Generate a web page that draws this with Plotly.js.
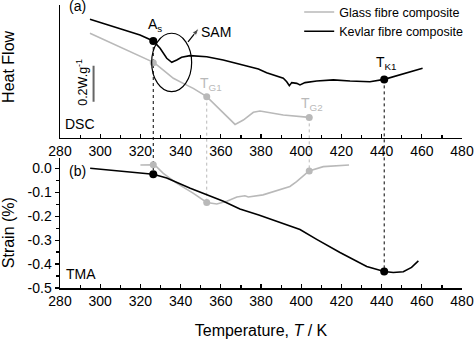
<!DOCTYPE html>
<html>
<head>
<meta charset="utf-8">
<script src="https://cdn.plot.ly/plotly-3.0.1.min.js"></script>
<style>
  html, body { margin: 0; padding: 0; background: #fff; }
  #chart { width: 476px; height: 340px; }
</style>
</head>
<body>
<div id="chart"></div>
<script>
// ---- DSC heat flow (W/g, arbitrary offset) vs temperature (K) ----
const dscKevlarT = [294.9, 319.8, 326.4, 329.8, 333.1, 335.6, 338.1, 340.5, 344.7, 353.0, 361.2,
                    369.6, 378.7, 382.8, 391.1, 392.8, 394.1, 395.3, 397.8, 399.4, 401.9, 407.7,
                    416.0, 424.3, 434.2, 441.3, 450.8, 460.4];
const dscKevlar  = [0.658, 0.571, 0.537, 0.497, 0.441, 0.419, 0.432, 0.447, 0.456, 0.450, 0.432,
                    0.408, 0.382, 0.361, 0.330, 0.311, 0.289, 0.306, 0.302, 0.293, 0.306, 0.315,
                    0.321, 0.315, 0.311, 0.324, 0.354, 0.386];

const dscGlassT = [294.9, 319.8, 326.8, 331.4, 336.4, 341.3, 346.3, 353.0, 358.0, 362.9, 367.1,
                   371.2, 376.2, 379.5, 391.1, 404.0];
const dscGlass  = [0.580, 0.450, 0.417, 0.376, 0.330, 0.302, 0.274, 0.228, 0.172, 0.117, 0.074,
                   0.098, 0.141, 0.148, 0.126, 0.113];

// ---- TMA strain (%) vs temperature (K) ----
const tmaKevlarT = [295.0, 320.0, 326.4, 333.1, 344.8, 361.3, 369.5, 378.9, 394.4, 399.4, 407.7,
                    419.3, 432.6, 441.3, 445.8, 450.8, 454.9, 458.3];
const tmaKevlar  = [0.000, -0.018, -0.025, -0.041, -0.083, -0.138, -0.170, -0.195, -0.239, -0.256,
                    -0.297, -0.352, -0.410, -0.431, -0.435, -0.432, -0.414, -0.387];

const tmaGlassT = [320.0, 326.4, 328.0, 331.4, 338.0, 346.2, 353.0, 358.0, 363.0, 368.0, 372.0,
                   373.7, 381.0, 394.4, 397.7, 403.9, 411.0, 423.8];
const tmaGlass  = [0.014, 0.015, 0.007, -0.021, -0.062, -0.104, -0.143, -0.149, -0.138, -0.120,
                   -0.115, -0.120, -0.111, -0.076, -0.056, -0.011, 0.007, 0.014];

// strain axis ticks (plain hyphen for the minus sign)
const strainTickVals = [0.0, -0.1, -0.2, -0.3, -0.4, -0.5];
const strainTickText = ['0.0', '-0.1', '-0.2', '-0.3', '-0.4', '-0.5'];

// ---- characteristic temperatures with their DSC and TMA values ----
const pointAs  = { T: 326.4, kevlarDsc: 0.537, kevlarTma: -0.025, glassDsc: 0.417, glassTma: 0.015 };
const pointTG1 = { T: 353.0, dsc: 0.228, tma: -0.143 };
const pointTG2 = { T: 404.0, dsc: 0.113, tma: -0.011 };
const pointTK1 = { T: 441.3, dsc: 0.324, tma: -0.431 };

const seriesNames = ['Glass fibre composite', 'Kevlar fibre composite'];
const scaleBarLen = 0.2;   // W/g

// SAM pointer: from the ellipse edge to the label
const samArrowT = [343.7, 349.2];
const samArrowV = [0.532, 0.609];

const BLACK = '#000000';
const GREY  = '#b9b9b9';
const FONT  = 'Liberation Sans, Arial, Helvetica, sans-serif';

const xRange = [280, 480];
const yTop = { range: [0, 0.737], domain: [0.531, 1.0] };
const yBot = { range: [-0.5, 0.043], domain: [0, 0.4594] };

// map an axis value to paper coordinates through that axis' range and domain
function paperY(v, ax) {
  const f = (v - ax.range[0]) / (ax.range[1] - ax.range[0]);
  return ax.domain[0] + f * (ax.domain[1] - ax.domain[0]);
}

const traces = [
  { x: dscGlassT, y: dscGlass, xaxis: 'x', yaxis: 'y', mode: 'lines', name: seriesNames[0],
    line: { color: GREY, width: 1.6 } },
  { x: dscKevlarT, y: dscKevlar, xaxis: 'x', yaxis: 'y', mode: 'lines', name: seriesNames[1],
    line: { color: BLACK, width: 1.6 } },
  { x: tmaGlassT, y: tmaGlass, xaxis: 'x2', yaxis: 'y2', mode: 'lines', name: seriesNames[0],
    line: { color: GREY, width: 1.6 }, showlegend: false },
  { x: tmaKevlarT, y: tmaKevlar, xaxis: 'x2', yaxis: 'y2', mode: 'lines', name: seriesNames[1],
    line: { color: BLACK, width: 1.6 }, showlegend: false },
  // grey event markers
  { x: [pointAs.T, pointTG1.T, pointTG2.T], y: [pointAs.glassDsc, pointTG1.dsc, pointTG2.dsc],
    xaxis: 'x', yaxis: 'y', mode: 'markers', marker: { color: GREY, size: 7 }, showlegend: false },
  { x: [pointAs.T, pointTG1.T, pointTG2.T], y: [pointAs.glassTma, pointTG1.tma, pointTG2.tma],
    xaxis: 'x2', yaxis: 'y2', mode: 'markers', marker: { color: GREY, size: 7 }, showlegend: false },
  // black event markers
  { x: [pointAs.T, pointTK1.T], y: [pointAs.kevlarDsc, pointTK1.dsc],
    xaxis: 'x', yaxis: 'y', mode: 'markers', marker: { color: BLACK, size: 8 }, showlegend: false },
  { x: [pointAs.T, pointTK1.T], y: [pointAs.kevlarTma, pointTK1.tma],
    xaxis: 'x2', yaxis: 'y2', mode: 'markers', marker: { color: BLACK, size: 8 }, showlegend: false },
  // SAM pointer arrow
  { x: samArrowT, y: samArrowV, xaxis: 'x', yaxis: 'y', mode: 'lines+markers', showlegend: false,
    line: { color: BLACK, width: 1.2 },
    marker: { symbol: ['circle', 'arrow'], size: [0, 8], color: BLACK, angleref: 'previous' } }
];

// dotted guides joining each DSC event to the matching TMA point
function guide(T, vTop, vBot, color) {
  return { type: 'line', layer: 'below', xref: 'x', yref: 'paper',
           x0: T, x1: T, y0: paperY(vTop, yTop), y1: paperY(vBot, yBot),
           line: { color: color, width: 1, dash: 'dot' } };
}

const shapes = [
  guide(pointAs.T, pointAs.kevlarDsc, pointAs.kevlarTma, BLACK),
  guide(pointTG1.T, pointTG1.dsc, pointTG1.tma, GREY),
  guide(pointTG2.T, pointTG2.dsc, pointTG2.tma, GREY),
  guide(pointTK1.T, pointTK1.dsc, pointTK1.tma, BLACK),
  // SAM ellipse
  { type: 'circle', xref: 'x', yref: 'y', x0: 325.6, x1: 345.5, y0: 0.256, y1: 0.58,
    line: { color: BLACK, width: 1.2 } },
  // 0.2 W/g scale bar
  { type: 'line', xref: 'x', yref: 'y', x0: 296.7, x1: 296.7, y0: 0.2, y1: 0.2 + scaleBarLen,
    line: { color: '#666666', width: 2 } }
];

const tf = (size, color) => ({ family: FONT, size: size, color: color || BLACK });

const annotations = [
  { xref: 'paper', yref: 'paper', x: -0.127, y: 0.781, xanchor: 'center', yanchor: 'middle',
    text: 'Heat Flow', textangle: -90, showarrow: false, font: tf(16) },
  { xref: 'paper', yref: 'paper', x: -0.129, y: 0.194, xanchor: 'center', yanchor: 'middle',
    text: 'Strain (%)', textangle: -90, showarrow: false, font: tf(16) },
  { xref: 'x', yref: 'y', x: 288.5, y: 0.73, text: '(a)', showarrow: false, font: tf(14) },
  { xref: 'x2', yref: 'y2', x: 288.5, y: -0.011, text: '(b)', showarrow: false, font: tf(14) },
  { xref: 'x', yref: 'y', x: 290.0, y: 0.076, text: 'DSC', showarrow: false, font: tf(14) },
  { xref: 'x2', yref: 'y2', x: 290.4, y: -0.441, text: 'TMA', showarrow: false, font: tf(14) },
  { xref: 'x', yref: 'y', x: 290.9, y: 0.31, text: '0.2W.g<sup>-1</sup>', textangle: -90,
    showarrow: false, font: tf(12.5) },
  { xref: 'x', yref: 'y', x: 327.3, y: 0.624, text: 'A<sub>s</sub>', showarrow: false, font: tf(14) },
  { xref: 'x', yref: 'y', x: 357.6, y: 0.587, text: 'SAM', showarrow: false, font: tf(14) },
  { xref: 'x', yref: 'y', x: 355.3, y: 0.296, text: 'T<sub>G1</sub>', showarrow: false, font: tf(14, GREY) },
  { xref: 'x', yref: 'y', x: 405.6, y: 0.185, text: 'T<sub>G2</sub>', showarrow: false, font: tf(14, GREY) },
  { xref: 'x', yref: 'y', x: 442.4, y: 0.413, text: 'T<sub>K1</sub>', showarrow: false, font: tf(14) }
];

const xCommon = {
  range: xRange, dtick: 20, tick0: 280, ticks: 'inside', ticklen: 4, tickwidth: 1.2,
  tickcolor: BLACK, showline: true, linecolor: BLACK, linewidth: 1.5, showgrid: false,
  zeroline: false, tickfont: tf(14), automargin: false,
  minor: { dtick: 10, ticks: 'inside', ticklen: 3, tickwidth: 1.2, tickcolor: BLACK, showgrid: false }
};

const layout = {
  width: 476, height: 340,
  margin: { l: 60, r: 14, t: 5, b: 52, autoexpand: false },
  paper_bgcolor: '#ffffff', plot_bgcolor: '#ffffff',
  font: { family: FONT, color: BLACK },
  showlegend: true,
  legend: { x: 0.595, y: 1.027, xanchor: 'left', yanchor: 'top', bgcolor: 'rgba(0,0,0,0)',
            font: tf(12.5), itemwidth: 30, tracegroupgap: 0 },
  xaxis: Object.assign({}, xCommon, { anchor: 'y' }),
  yaxis: { domain: yTop.domain, range: yTop.range, anchor: 'x', showline: true, linecolor: BLACK,
           linewidth: 1.5, showticklabels: false, ticks: '', showgrid: false, zeroline: false,
           automargin: false },
  xaxis2: Object.assign({}, xCommon, { anchor: 'y2',
           title: { text: 'Temperature, <i>T</i> / K', font: tf(16), standoff: 16 } }),
  yaxis2: { domain: yBot.domain, range: yBot.range, anchor: 'x2', showline: true, linecolor: BLACK,
            linewidth: 1.5, tickmode: 'array', tickvals: strainTickVals, ticktext: strainTickText,
            ticks: 'outside', ticklen: 4,
            tickwidth: 1.2, tickcolor: BLACK, showgrid: false, zeroline: false, tickfont: tf(14),
            automargin: false,
            minor: { dtick: 0.05, tick0: 0, ticks: 'outside', ticklen: 2.5, tickwidth: 1.2,
                     tickcolor: BLACK, showgrid: false } },
  shapes: shapes,
  annotations: annotations
};

Plotly.newPlot('chart', traces, layout, { staticPlot: true, displayModeBar: false });
</script>
</body>
</html>
